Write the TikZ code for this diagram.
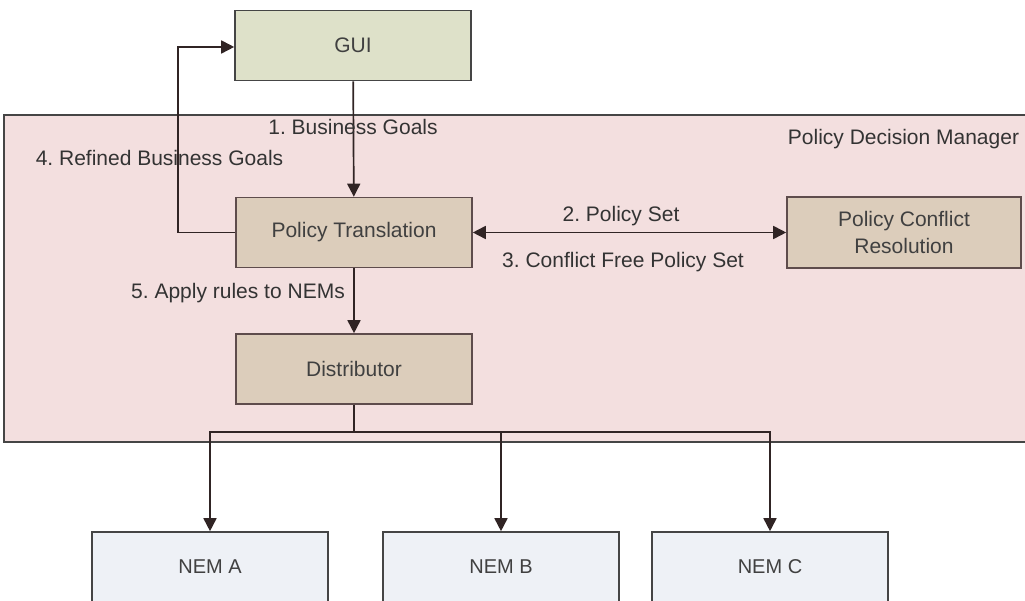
\documentclass[tikz,border=0pt]{standalone}
\usepackage{fontspec}
\setmainfont{Liberation Sans}
\usepackage{tikz}
\usetikzlibrary{arrows.meta}
\frenchspacing

\definecolor{guifill}{HTML}{DEE1C9}
\definecolor{pdmfill}{HTML}{F3DFDF}
\definecolor{modfill}{HTML}{DCCDBB}
\definecolor{nemfill}{HTML}{EEF1F6}
\definecolor{edgegray}{HTML}{454545}
\definecolor{modedge}{HTML}{5E4C4C}
\definecolor{linecol}{HTML}{302424}

\tikzset{
  box/.style={rectangle, draw=edgegray, line width=1.6pt, minimum width=236pt, minimum height=70pt, inner sep=0pt, text=black!75, font=\fontsize{21}{25}\selectfont, align=center},
  module/.style={box, fill=modfill, draw=modedge},
  nem/.style={box, fill=nemfill, minimum height=70pt, font=\fontsize{20}{24}\selectfont},
  lbl/.style={inner sep=0pt, text=black!80, font=\fontsize{21}{25}\selectfont},
  tip/.tip={Triangle[width=13pt,length=13pt]},
  flow/.style={draw=linecol, line width=1.7pt, -tip},
}

\begin{document}
\begin{tikzpicture}[x=1pt, y=1pt]
\clip (0,0) rectangle (1025,601);
\fill[white] (0,0) rectangle (1025,601);
% policy decision manager
\node[rectangle, draw=edgegray, line width=1.6pt, fill=pdmfill, minimum width=1060pt, minimum height=327pt, inner sep=0pt] (PDM) at (534, 322.5) {};
\node[lbl] (pdmname) at (903.5, 462) {Policy Decision Manager};

\node[box, fill=guifill] (GUI) at (353, 555.5) {GUI};
\node[module] (PT) at (354, 368.5) {Policy Translation};
\node[module] (DIST) at (354, 232) {Distributor};
\node[module, minimum width=234pt, minimum height=71pt, font=\fontsize{21}{27}\selectfont] (PCR) at (904, 368.5) {Policy Conflict\\Resolution};

\node[nem] (NEMA) at (210, 34) {NEM A};
\node[nem] (NEMB) at (501, 34) {NEM B};
\node[nem] (NEMC) at (770, 34) {NEM C};

% connectors
\coordinate (loop) at (178, 554);
\coordinate (fork) at (354, 169);
\draw[flow] (GUI) -- (PT);
\draw[flow] (PT.west) -| (loop) -- (GUI.west |- loop);
\draw[flow, tip-tip] (PT) -- (PCR);
\draw[flow] (PT) -- (DIST);
\draw[draw=linecol, line width=1.7pt] (DIST) -- (fork);
\draw[flow] (fork) -| (NEMA.north);
\draw[flow] (fork) -| (NEMB.north);
\draw[flow] (fork) -| (NEMC.north);

% labels
\node[lbl] (l1) at (353, 474) {1. Business Goals};
\node[lbl] (l4) at (159.5, 443) {4. Refined Business Goals};
\node[lbl] (l2) at (621, 385) {2. Policy Set};
\node[lbl] (l3) at (623, 339) {3. Conflict Free Policy Set};
\node[lbl] (l5) at (238, 308) {5. Apply rules to NEMs};
\end{tikzpicture}
\end{document}
